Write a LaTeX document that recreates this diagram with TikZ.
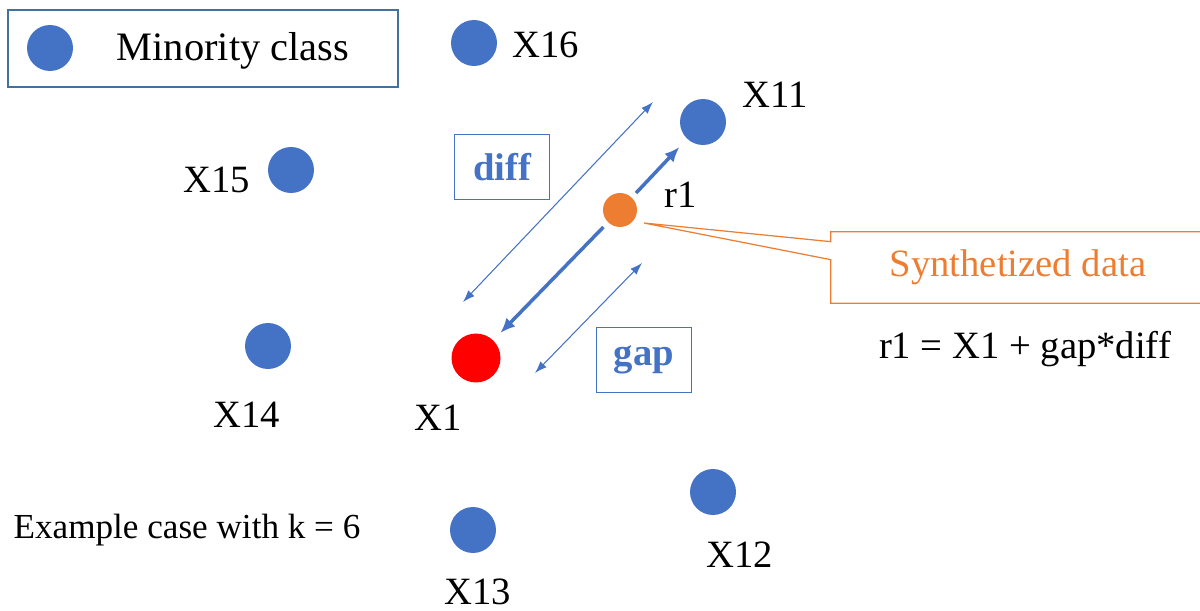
\documentclass[tikz,border=0pt]{standalone}
\usepackage{fontspec}
\setmainfont{Liberation Serif}
\usetikzlibrary{arrows.meta,calc}

\definecolor{ptblue}{HTML}{4472C4}
\definecolor{ptred}{HTML}{FF0000}
\definecolor{ptorange}{HTML}{ED7D31}
\definecolor{framegray}{HTML}{41719C}

\tikzset{
sample/.style={circle, fill=ptblue, inner sep=0pt, minimum size=0.92cm},
ptlabel/.style={inner sep=0pt},
tagbox/.style={draw=ptblue, line width=0.7pt, text=ptblue, font=\fontsize{22}{26}\selectfont\bfseries,
  minimum width=1.9cm, minimum height=1.3cm, inner sep=0pt},
thinarrow/.style={ptblue, line width=0.6pt, {Latex[length=0.24cm,width=0.17cm]}-{Latex[length=0.24cm,width=0.17cm]}},
thickarrow/.style={ptblue, line width=2pt, -{Latex[length=0.3cm,width=0.25cm]}}
}

\begin{document}
\begin{tikzpicture}[x=0.02cm, y=-0.02cm, font=\fontsize{22}{26}\selectfont]

\useasboundingbox (0,0) rectangle (1200,611);

%%%%%%%%%%%%%%%%%%%%%%%%%%%%%%%%%%%%%%%%%%%%%%%%%%%%%%%%%%
% LEGEND
%%%%%%%%%%%%%%%%%%%%%%%%%%%%%%%%%%%%%%%%%%%%%%%%%%%%%%%%%%

\node[
draw=framegray,
line width=0.8pt,
minimum width=7.8cm,
minimum height=1.54cm
](legend) at (203,48.5){};

\node[sample](legdot) at (50,48){};
\node[ptlabel, anchor=base, font=\fontsize{23}{27}\selectfont](legtext) at (233,61){Minority class};

%%%%%%%%%%%%%%%%%%%%%%%%%%%%%%%%%%%%%%%%%%%%%%%%%%%%%%%%%%
% SAMPLES
%%%%%%%%%%%%%%%%%%%%%%%%%%%%%%%%%%%%%%%%%%%%%%%%%%%%%%%%%%

\node[sample](x16) at (474,43){};
\node[sample](x11) at (703,122){};
\node[sample](x15) at (291,170){};
\node[sample](x14) at (268,346){};
\node[sample](x12) at (713,492){};
\node[sample](x13) at (473,530){};

\node[circle, fill=ptred, inner sep=0pt, minimum size=0.98cm](x1) at (476,358){};
\node[circle, fill=ptorange, inner sep=0pt, minimum size=0.68cm](r1) at (620,210){};

\node[ptlabel](x16lab) at (546,45){X16};
\node[ptlabel](x11lab) at (775,95){X11};
\node[ptlabel](x15lab) at (217,180){X15};
\node[ptlabel](x14lab) at (247,415){X14};
\node[ptlabel](x1lab) at (438,418){X1};
\node[ptlabel](x12lab) at (740,555){X12};
\node[ptlabel](x13lab) at (478,592){X13};
\node[ptlabel](r1lab) at (681,195){r1};

%%%%%%%%%%%%%%%%%%%%%%%%%%%%%%%%%%%%%%%%%%%%%%%%%%%%%%%%%%
% DIFF AND GAP
%%%%%%%%%%%%%%%%%%%%%%%%%%%%%%%%%%%%%%%%%%%%%%%%%%%%%%%%%%

\node[tagbox](diff) at (502,167){diff};
\node[tagbox](gap) at (644,360){gap};

\coordinate (diffa) at (463,302);
\coordinate (diffb) at (653,102);
\coordinate (gapa) at (535,373);
\coordinate (gapb) at (642,263);

\draw[thinarrow] (diffa)--(diffb);
\draw[thinarrow] (gapa)--(gapb);

\draw[thickarrow, shorten <=0.13cm, shorten >=0.2cm] (r1)--(x1);
\draw[thickarrow, shorten <=0.12cm, shorten >=0.22cm] (r1)--(x11);

%%%%%%%%%%%%%%%%%%%%%%%%%%%%%%%%%%%%%%%%%%%%%%%%%%%%%%%%%%
% CALLOUT
%%%%%%%%%%%%%%%%%%%%%%%%%%%%%%%%%%%%%%%%%%%%%%%%%%%%%%%%%%

\node[
text=ptorange,
minimum width=7.48cm,
minimum height=1.42cm,
inner sep=0pt
](synth) at (1018,267.5){Synthetized data};

\coordinate (tip) at (644,223);

\draw[ptorange, line width=0.7pt]
(synth.north east)--(synth.north west)
--([yshift=-0.2cm]synth.north west)--(tip)
--([yshift=-0.56cm]synth.north west)
--(synth.south west)--(synth.south east);

\node[ptlabel, anchor=base](formula) at (1025,358){r1 = X1 + gap*diff};

%%%%%%%%%%%%%%%%%%%%%%%%%%%%%%%%%%%%%%%%%%%%%%%%%%%%%%%%%%
% NOTE
%%%%%%%%%%%%%%%%%%%%%%%%%%%%%%%%%%%%%%%%%%%%%%%%%%%%%%%%%%

\node[ptlabel, anchor=base, font=\fontsize{20}{24}\selectfont](note) at (187,538){Example case with k = 6};

\end{tikzpicture}
\end{document}
